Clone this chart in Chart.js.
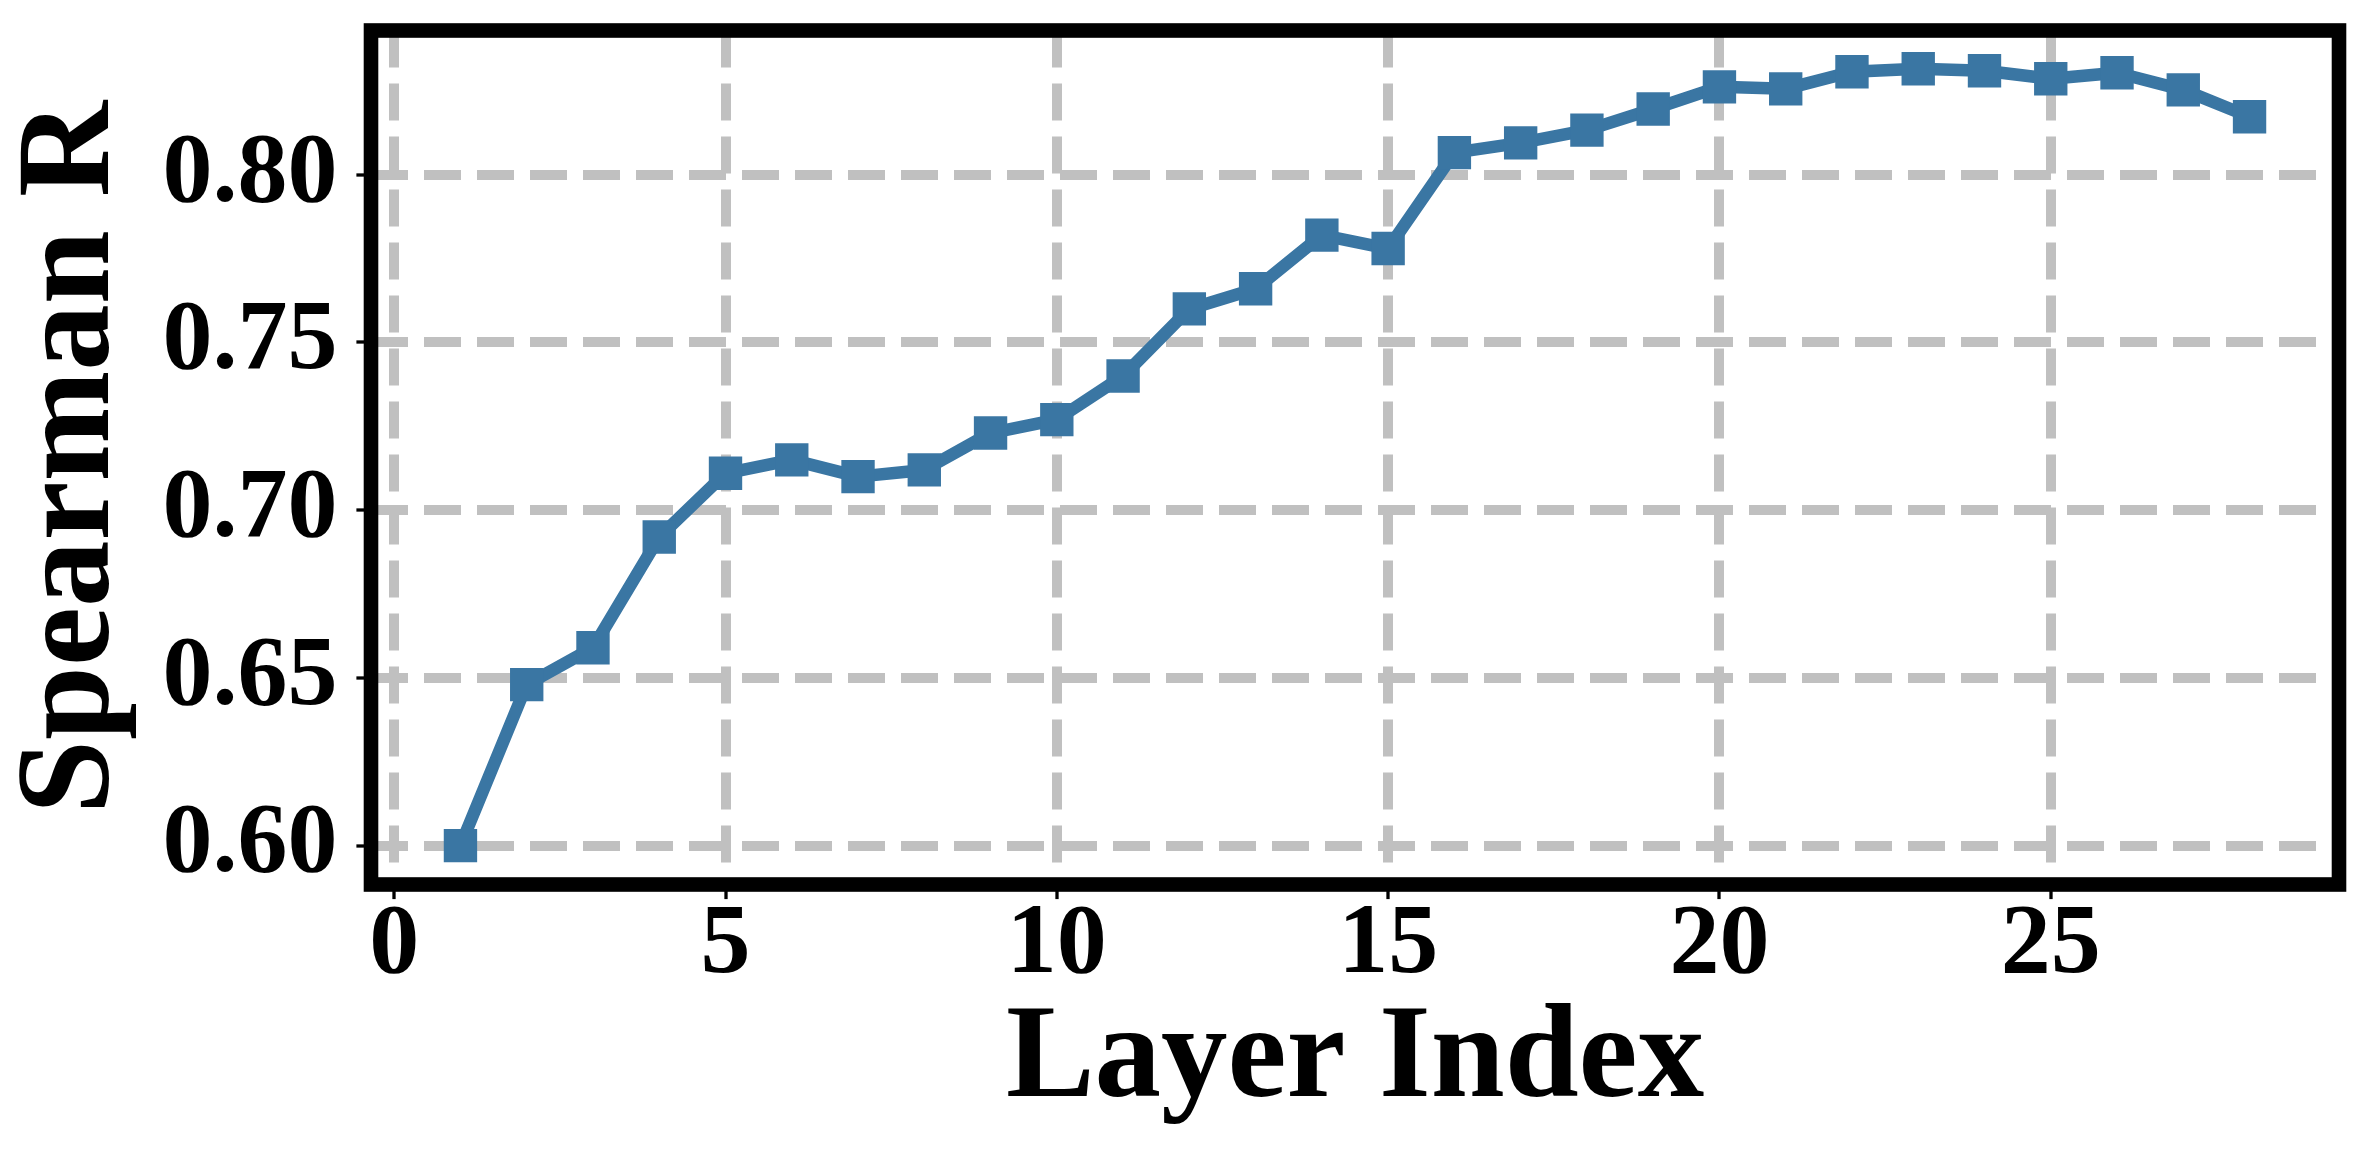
<!DOCTYPE html>
<html>
<head>
<meta charset="utf-8">
<script src="https://cdn.jsdelivr.net/npm/chart.js@4.4.1/dist/chart.umd.min.js"></script>
<style>
	html, body { margin: 0; padding: 0; background: #ffffff; }
	canvas { display: block; }
</style>
</head>
<body>
<canvas id="layerChart" width="2367" height="1165"></canvas>
<script>
// Values
const layers = [1, 2, 3, 4, 5, 6, 7, 8, 9, 10, 11, 12, 13, 14, 15, 16, 17, 18, 19, 20, 21, 22, 23, 24, 25, 26, 27, 28];
const spearman = [
	0.600, 0.648, 0.659, 0.692, 0.711, 0.715, 0.710, 0.712, 0.723, 0.727,
	0.740, 0.760, 0.766, 0.782, 0.778, 0.8066, 0.8095, 0.8133, 0.8196, 0.8262,
	0.8256, 0.8307, 0.8316, 0.8310, 0.8286, 0.8304, 0.8253, 0.8173,
];
const xTicks = [0, 5, 10, 15, 20, 25];
const yTicks = [0.6, 0.65, 0.7, 0.75, 0.8];

const fontFamily = "'Liberation Serif', 'Times New Roman', serif";
const lineColor = '#3a76a3';
const gridColor = '#c0c0c0';

// Black frame round the plot area (matplotlib spines)
const framePlugin = {
	id: 'frame',
	afterDraw(chart) {
		const {ctx, chartArea} = chart;
		ctx.save();
		ctx.strokeStyle = '#000000';
		ctx.lineWidth = 14.6;
		ctx.lineJoin = 'miter';
		ctx.strokeRect(
			chartArea.left,
			chartArea.top,
			chartArea.right - chartArea.left,
			chartArea.bottom - chartArea.top,
		);
		ctx.restore();
	},
};

const gridOptions = {
	color: gridColor,
	lineWidth: 10,
	drawTicks: true,
	tickLength: 14.6,
	tickWidth: 3.3,
	tickColor: '#000000',
	tickBorderDash: [],
};

new Chart(document.getElementById('layerChart'), {
	type: 'line',
	data: {
		datasets: [
			{
				label: 'Spearman R',
				data: layers.map((layer, i) => ({x: layer, y: spearman[i]})),
				borderColor: lineColor,
				backgroundColor: lineColor,
				borderWidth: 12.5,
				borderJoinStyle: 'round',
				pointStyle: 'rect',
				pointRadius: 23.6,
				pointHoverRadius: 23.6,
				pointBorderWidth: 0,
				pointBackgroundColor: lineColor,
				fill: false,
				tension: 0,
			},
		],
	},
	options: {
		responsive: false,
		animation: false,
		devicePixelRatio: 1,
		layout: {
			padding: {top: 30.5, right: 28, bottom: 0, left: 0},
		},
		plugins: {
			legend: {display: false},
			tooltip: {enabled: false},
		},
		scales: {
			x: {
				type: 'linear',
				position: 'bottom',
				min: -0.35,
				max: 29.35,
				bounds: 'data',
				afterBuildTicks: (scale) => {
					scale.ticks = xTicks.map((v) => ({value: v}));
				},
				afterFit: (scale) => {
					scale.height = 280.5;
					scale.paddingLeft = 0;
					scale.paddingRight = 0;
				},
				grid: gridOptions,
				border: {display: false, dash: [37, 16]},
				ticks: {
					autoSkip: false,
					maxRotation: 0,
					color: '#000000',
					padding: -3,
					font: {family: fontFamily, size: 100, weight: 'bold', lineHeight: 1},
					callback: (value) => String(value),
				},
				title: {
					display: true,
					text: 'Layer Index',
					color: '#000000',
					padding: {top: 0, bottom: 37},
					font: {family: fontFamily, size: 133, weight: 'bold', lineHeight: 1},
				},
			},
			y: {
				type: 'linear',
				position: 'left',
				min: 0.5884,
				max: 0.843,
				bounds: 'data',
				afterBuildTicks: (scale) => {
					scale.ticks = yTicks.map((v) => ({value: v}));
				},
				afterFit: (scale) => {
					scale.width = 371;
					scale.paddingTop = 0;
					scale.paddingBottom = 0;
				},
				grid: gridOptions,
				border: {display: false, dash: [37, 16]},
				ticks: {
					autoSkip: false,
					color: '#000000',
					padding: 19,
					font: {family: fontFamily, size: 100, weight: 'bold', lineHeight: 1},
					callback: (value) => Number(value).toFixed(2),
				},
				title: {
					display: true,
					text: 'Spearman R',
					color: '#000000',
					padding: {top: 7, bottom: 0},
					font: {family: fontFamily, size: 133, weight: 'bold', lineHeight: 1},
				},
			},
		},
	},
	plugins: [framePlugin],
});
</script>
</body>
</html>
